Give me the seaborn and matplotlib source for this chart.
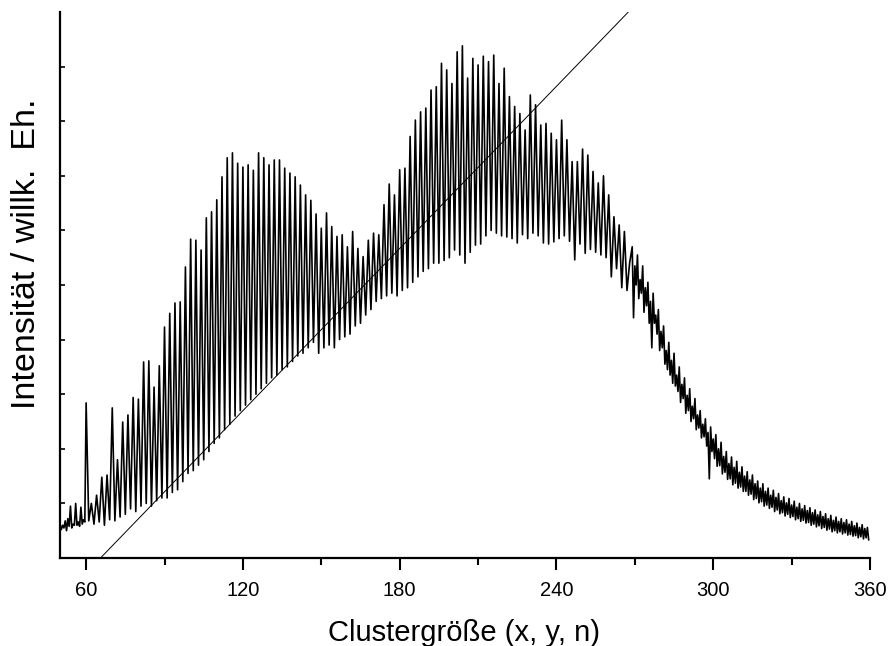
import numpy as np
import pandas as pd
import matplotlib
matplotlib.use("Agg")
import matplotlib.pyplot as plt
from matplotlib.ticker import MultipleLocator
import seaborn as sns

# ---- data ----
# baseline before the first cluster peak (x = 50 ... 59.5, step 0.5)
pre_x = np.arange(50, 60, 0.5)
pre_y = [0.62, 0.52, 0.60, 0.55, 0.68, 0.50, 0.72, 0.58, 0.95, 0.55,
         0.62, 0.60, 1.00, 0.60, 0.66, 0.58, 0.93, 0.62, 0.70, 0.66]

# cluster peaks (every 2 units) and the minima between them
peak_x = np.arange(60, 270, 2)
peak_y = [2.84, 1.00, 1.15, 1.48, 1.52, 2.75, 1.80, 2.49, 2.62, 2.94,
          2.91, 3.59, 3.61, 3.13, 3.52, 4.23, 4.48, 4.67, 4.69, 5.33,
          5.84, 5.82, 5.64, 6.23, 6.34, 6.56, 6.98, 7.33, 7.42, 7.23,
          7.16, 7.20, 7.10, 7.42, 7.33, 7.20, 7.29, 7.29, 7.14, 7.05,
          6.98, 6.83, 6.65, 6.55, 6.30, 6.04, 6.32, 6.07, 5.89, 5.92,
          5.70, 5.98, 5.67, 5.52, 5.82, 5.95, 5.92, 6.47, 6.85, 6.65,
          7.11, 7.14, 7.72, 8.02, 8.17, 8.24, 8.57, 8.63, 9.06, 8.94,
          8.69, 9.27, 9.38, 8.79, 9.15, 9.03, 9.19, 9.09, 9.21, 8.69,
          8.97, 8.45, 8.27, 8.14, 7.84, 8.48, 8.30, 7.93, 7.96, 7.78,
          7.66, 8.02, 7.66, 7.26, 7.26, 7.49, 7.38, 7.08, 6.87, 7.00,
          6.65, 6.25, 6.10, 5.98, 5.40]
valley_x = np.arange(61, 269, 2)
valley_y = [0.68, 0.62, 0.66, 0.60, 0.70, 0.68, 0.75, 0.80, 0.90, 0.85,
            0.95, 1.00, 0.95, 1.05, 1.10, 1.10, 1.20, 1.25, 1.40, 1.55,
            1.60, 1.70, 1.80, 1.95, 2.10, 2.20, 2.35, 2.45, 2.60, 2.70,
            2.80, 2.90, 3.00, 3.10, 3.20, 3.30, 3.35, 3.45, 3.50, 3.60,
            3.70, 3.75, 3.85, 3.95, 3.75, 3.85, 3.90, 3.85, 4.00, 4.05,
            4.10, 4.25, 4.30, 4.45, 4.55, 4.70, 4.75, 4.80, 4.85, 4.80,
            4.90, 4.95, 5.05, 5.15, 5.25, 5.30, 5.40, 5.40, 5.45, 5.50,
            5.64, 5.55, 5.40, 5.60, 5.73, 5.75, 5.90, 6.00, 5.95, 5.90,
            5.88, 5.85, 5.77, 5.92, 5.85, 5.95, 5.90, 5.77, 5.75, 5.79,
            5.85, 5.90, 5.80, 5.46, 5.75, 5.58, 5.65, 5.60, 5.55, 5.50,
            5.15, 5.30, 4.95, 4.90]

# noisy decaying tail: upper value at x, lower value at x + 0.5
tail_x = np.arange(269, 360)
tail_hi = [5.70, 5.35, 5.55, 5.10, 5.35, 4.95, 5.05, 4.70, 4.85, 4.45,
           4.55, 4.15, 4.25, 3.80, 3.95, 3.62, 3.75, 3.35, 3.50, 3.18,
           3.30, 2.98, 3.10, 2.78, 2.92, 2.62, 2.70, 2.45, 2.55, 2.30,
           2.40, 2.18, 2.26, 2.00, 2.12, 1.86, 1.95, 1.73, 1.85, 1.66,
           1.77, 1.57, 1.67, 1.50, 1.58, 1.43, 1.52, 1.36, 1.41, 1.28,
           1.36, 1.22, 1.28, 1.15, 1.24, 1.11, 1.18, 1.05, 1.12, 1.01,
           1.09, 0.97, 1.04, 0.93, 1.00, 0.90, 0.96, 0.87, 0.92, 0.83,
           0.88, 0.79, 0.85, 0.76, 0.81, 0.72, 0.78, 0.69, 0.75, 0.67,
           0.72, 0.65, 0.70, 0.62, 0.67, 0.59, 0.64, 0.56, 0.61, 0.54,
           0.56]
tail_lo = [4.40, 5.00, 4.75, 4.85, 4.50, 4.62, 4.30, 3.85, 4.30, 4.10,
           3.80, 3.85, 3.55, 3.45, 3.35, 3.20, 3.15, 3.05, 2.85, 2.92,
           2.65, 2.70, 2.50, 2.55, 2.35, 2.38, 2.20, 2.22, 2.05, 1.45,
           1.95, 1.82, 1.68, 1.69, 1.54, 1.57, 1.44, 1.45, 1.34, 1.37,
           1.28, 1.30, 1.22, 1.22, 1.15, 1.17, 1.07, 1.09, 1.01, 1.03,
           0.95, 0.97, 0.91, 0.93, 0.85, 0.88, 0.81, 0.83, 0.77, 0.80,
           0.74, 0.76, 0.70, 0.72, 0.67, 0.69, 0.64, 0.65, 0.60, 0.62,
           0.57, 0.59, 0.54, 0.56, 0.51, 0.53, 0.48, 0.50, 0.46, 0.48,
           0.44, 0.46, 0.42, 0.43, 0.40, 0.41, 0.37, 0.39, 0.35, 0.37,
           0.33]

# straight reference line
line_x = [65.5, 267.5]
line_y = [0.0, 10.0]

# ---- assemble the trace ----
zz_x, zz_y = [], []
for i, (px, py) in enumerate(zip(peak_x, peak_y)):
    zz_x.append(px); zz_y.append(py)
    if i < len(valley_x):
        zz_x.append(valley_x[i]); zz_y.append(valley_y[i])
tl_x, tl_y = [], []
for x, hi, lo in zip(tail_x, tail_hi, tail_lo):
    tl_x += [x, x + 0.5]
    tl_y += [hi, lo]

trace = pd.DataFrame({
    "x": np.concatenate([pre_x, zz_x, tl_x]),
    "y": np.concatenate([pre_y, zz_y, tl_y]),
})
ref = pd.DataFrame({"x": line_x, "y": line_y})

# ---- plot ----
sns.set_theme(style="ticks")
plt.rcParams["font.family"] = ["Liberation Sans", "DejaVu Sans"]

fig = plt.figure(figsize=(8.88, 6.46), dpi=100)
ax = fig.add_axes([60 / 888, 88 / 646, 810 / 888, 546 / 646])

sns.lineplot(data=trace, x="x", y="y", sort=False, estimator=None,
             color="black", linewidth=1.2, ax=ax)
sns.lineplot(data=ref, x="x", y="y", sort=False, estimator=None,
             color="black", linewidth=0.7, ax=ax)

ax.set_xlim(50, 360)
ax.set_ylim(0, 10)
ax.set_xticks([60, 120, 180, 240, 300, 360])
ax.xaxis.set_minor_locator(MultipleLocator(30))
ax.set_yticks(np.arange(1, 10))
ax.set_yticklabels([])
ax.tick_params(axis="x", which="major", direction="out", length=8.5, width=1.5,
               labelsize=14.5, pad=8, color="black", labelcolor="black")
ax.tick_params(axis="x", which="minor", direction="out", length=5, width=1.5,
               color="black")
ax.tick_params(axis="y", which="major", direction="in", length=3.5, width=1.2,
               color="black")
for s in ["top", "right"]:
    ax.spines[s].set_visible(False)
for s in ["left", "bottom"]:
    ax.spines[s].set_linewidth(1.6)
    ax.spines[s].set_color("black")

ax.set_xlabel("Clustergröße (x, y, n)", fontsize=21, color="black")
ax.set_ylabel("Intensität / willk.  Eh.", fontsize=24.5, color="black")
ax.xaxis.set_label_coords(0.4985, -0.111)
ax.yaxis.set_label_coords(-0.0222, 0.557)

fig.savefig("out.png", dpi=100)
